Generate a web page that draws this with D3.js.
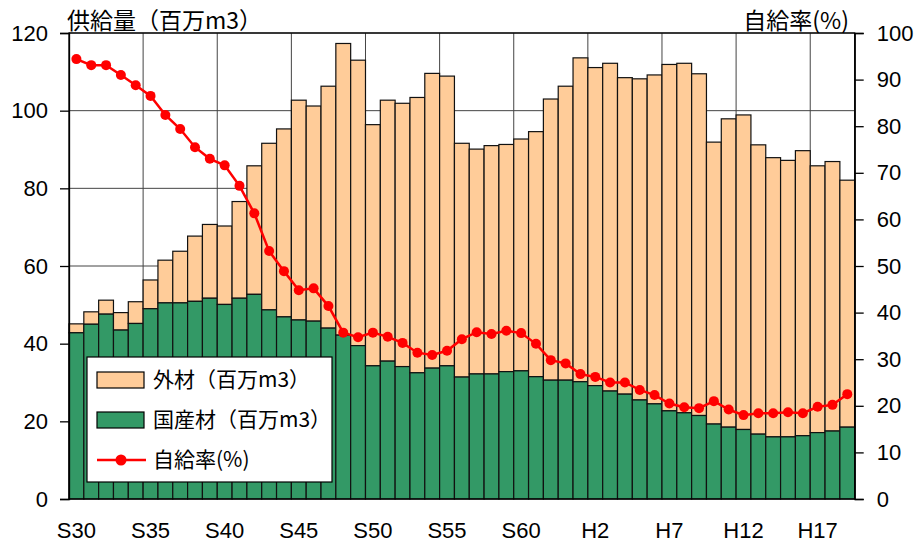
<!DOCTYPE html>
<html>
<head>
<meta charset="utf-8">
<script src="https://cdn.jsdelivr.net/npm/d3@7"></script>
<style>
  body { margin: 0; background: #fff; }
  svg text { font-family: "Liberation Sans", Arial, "Noto Sans CJK JP", sans-serif; fill: #000; }
  .jp { font-family: "Noto Sans CJK JP", sans-serif; }
</style>
</head>
<body>
<div id="chart"></div>
<script>
// 木材供給量と自給率 (S30 - H19)

let years = ["S30","S31","S32","S33","S34","S35","S36","S37","S38","S39",
             "S40","S41","S42","S43","S44","S45","S46","S47","S48","S49",
             "S50","S51","S52","S53","S54","S55","S56","S57","S58","S59",
             "S60","S61","S62","S63","H1","H2","H3","H4","H5","H6",
             "H7","H8","H9","H10","H11","H12","H13","H14","H15","H16",
             "H17","H18","H19"];

// 国産材 (百万m3)
let domestic = [42.8, 45.0, 47.6, 43.5, 45.2, 49.0, 50.5, 50.5, 50.9, 51.7,
                50.1, 51.7, 52.7, 48.7, 46.9, 46.1, 45.8, 44.0, 42.2, 39.5,
                34.3, 35.5, 34.1, 32.5, 33.7, 34.3, 31.4, 32.2, 32.2, 32.8,
                33.0, 31.5, 30.6, 30.6, 30.2, 29.2, 27.8, 27.0, 25.5, 24.5,
                22.7, 22.2, 21.5, 19.3, 18.5, 17.9, 16.7, 16.0, 16.0, 16.3,
                17.1, 17.5, 18.5];

// 外材 (百万m3)
let imported = [2.3, 3.2, 3.6, 4.5, 5.6, 7.4, 11.0, 13.3, 16.8, 19.0,
                20.2, 24.9, 33.1, 42.9, 48.4, 56.6, 55.4, 62.3, 75.1, 73.5,
                62.1, 67.2, 67.8, 70.9, 75.9, 74.6, 60.2, 57.9, 58.8, 58.5,
                59.7, 63.1, 72.4, 75.7, 83.4, 81.9, 84.4, 81.5, 82.7, 84.7,
                89.2, 90.0, 88.0, 72.6, 79.4, 81.0, 74.5, 71.9, 71.2, 73.4,
                68.7, 69.4, 63.6];

// 自給率 (%)
let selfRate = [94.4, 93.1, 93.1, 91.0, 88.8, 86.5, 82.4, 79.4, 75.5, 73.0,
                71.6, 67.2, 61.3, 53.2, 48.9, 44.8, 45.2, 41.4, 35.7, 34.7,
                35.7, 34.8, 33.5, 31.4, 30.9, 31.8, 34.3, 35.8, 35.4, 36.1,
                35.6, 33.3, 29.8, 29.1, 26.8, 26.2, 25.0, 25.0, 23.4, 22.3,
                20.5, 19.7, 19.5, 21.0, 19.2, 18.0, 18.4, 18.4, 18.6, 18.4,
                19.8, 20.2, 22.5];

let xTickLabels = ["S30","S35","S40","S45","S50","S55","S60","H2","H7","H12","H17"];
let leftTicks = [0, 20, 40, 60, 80, 100, 120];
let rightTicks = [0, 10, 20, 30, 40, 50, 60, 70, 80, 90, 100];

let legendItems = [
  { label: "外材（百万m3）", kind: "bar", color: "#ffcc99" },
  { label: "国産材（百万m3）", kind: "bar", color: "#339966" },
  { label: "自給率(%)", kind: "line", color: "#ff0000" }
];

////////////////////////////////////////////////////////////////////////
// scales

let svgW = 917, svgH = 545;
let plotL = 69, plotR = 854.7, plotT = 33, plotB = 499;

let xScale = d3.scaleBand().domain(years).range([plotL, plotR]).padding(0);
let yLeft = d3.scaleLinear().domain([0, 120]).range([plotB, plotT]);
let yRight = d3.scaleLinear().domain([0, 100]).range([plotB, plotT]);

let svg = d3.select("#chart").append("svg")
  .attr("width", svgW)
  .attr("height", svgH);

// grid lines
svg.append("g")
  .selectAll("line")
  .data(leftTicks.slice(1))
  .enter().append("line")
  .attr("x1", plotL).attr("x2", plotR)
  .attr("y1", d => yLeft(d)).attr("y2", d => yLeft(d))
  .attr("stroke", "#444").attr("stroke-width", 1);

svg.append("g")
  .selectAll("line")
  .data(xTickLabels.slice(1))
  .enter().append("line")
  .attr("x1", d => xScale(d)).attr("x2", d => xScale(d))
  .attr("y1", plotT).attr("y2", plotB)
  .attr("stroke", "#444").attr("stroke-width", 1);

// stacked bars
let bars = svg.append("g")
  .selectAll("g")
  .data(years)
  .enter().append("g");

bars.append("rect")
  .attr("x", d => xScale(d))
  .attr("width", xScale.bandwidth())
  .attr("y", (d, i) => yLeft(domestic[i] + imported[i]))
  .attr("height", (d, i) => yLeft(domestic[i]) - yLeft(domestic[i] + imported[i]))
  .attr("fill", "#ffcc99")
  .attr("stroke", "#111").attr("stroke-width", 1.2);

bars.append("rect")
  .attr("x", d => xScale(d))
  .attr("width", xScale.bandwidth())
  .attr("y", (d, i) => yLeft(domestic[i]))
  .attr("height", (d, i) => plotB - yLeft(domestic[i]))
  .attr("fill", "#339966")
  .attr("stroke", "#111").attr("stroke-width", 1.2);

// self-sufficiency line
let cx = d => xScale(d) + xScale.bandwidth() / 2;
svg.append("path")
  .datum(years)
  .attr("d", d3.line().x(cx).y((d, i) => yRight(selfRate[i])))
  .attr("fill", "none")
  .attr("stroke", "#ff0000")
  .attr("stroke-width", 2.5);

svg.append("g")
  .selectAll("circle")
  .data(years)
  .enter().append("circle")
  .attr("cx", cx)
  .attr("cy", (d, i) => yRight(selfRate[i]))
  .attr("r", 5)
  .attr("fill", "#ff0000");

// frame
svg.append("rect")
  .attr("x", plotL).attr("y", plotT)
  .attr("width", plotR - plotL).attr("height", plotB - plotT)
  .attr("fill", "none").attr("stroke", "#000").attr("stroke-width", 1.3);

// axes
let axL = svg.append("g")
  .attr("transform", "translate(" + plotL + ",0)")
  .call(d3.axisLeft(yLeft).tickValues(leftTicks).tickSize(9).tickPadding(12));
let axR = svg.append("g")
  .attr("transform", "translate(" + plotR + ",0)")
  .call(d3.axisRight(yRight).tickValues(rightTicks).tickSize(9).tickPadding(13));
let axB = svg.append("g")
  .attr("transform", "translate(0," + plotB + ")")
  .call(d3.axisBottom(xScale).tickValues(xTickLabels).tickSize(0).tickPadding(23));

[axL, axR, axB].forEach(function(ax) {
  ax.select(".domain").attr("stroke", "#000").attr("stroke-width", 1.3);
  ax.selectAll(".tick line").attr("stroke", "#000").attr("stroke-width", 1.3);
  ax.selectAll("text")
    .style("font-family", "'Liberation Sans', Arial, sans-serif")
    .style("font-size", "22px")
    .attr("fill", "#000");
});
axB.select(".domain").remove();

// axis titles
svg.append("text")
  .attr("class", "jp")
  .attr("x", 67).attr("y", 29)
  .style("font-size", "23px")
  .text("供給量（百万m3）");

svg.append("text")
  .attr("class", "jp")
  .attr("x", 849).attr("y", 29)
  .attr("text-anchor", "end")
  .style("font-size", "23px")
  .text("自給率(%)");

// legend
let legend = svg.append("g").attr("transform", "translate(87,357)");
legend.append("rect")
  .attr("width", 245).attr("height", 125)
  .attr("fill", "#fff").attr("stroke", "#000").attr("stroke-width", 1.2);

let rows = legend.selectAll(".row")
  .data(legendItems)
  .enter().append("g")
  .attr("class", "row")
  .attr("transform", (d, i) => "translate(0," + (23 + i * 40) + ")");

rows.filter(d => d.kind === "bar").append("rect")
  .attr("x", 10).attr("y", -8)
  .attr("width", 47).attr("height", 16)
  .attr("fill", d => d.color)
  .attr("stroke", "#000").attr("stroke-width", 1.2);

rows.filter(d => d.kind === "line").append("line")
  .attr("x1", 10).attr("x2", 59)
  .attr("stroke", d => d.color).attr("stroke-width", 2.5);
rows.filter(d => d.kind === "line").append("circle")
  .attr("cx", 34).attr("r", 5.5)
  .attr("fill", d => d.color);

rows.append("text")
  .attr("class", "jp")
  .attr("x", 66).attr("dy", "0.35em")
  .style("font-size", "21px")
  .text(d => d.label);
</script>
</body>
</html>
